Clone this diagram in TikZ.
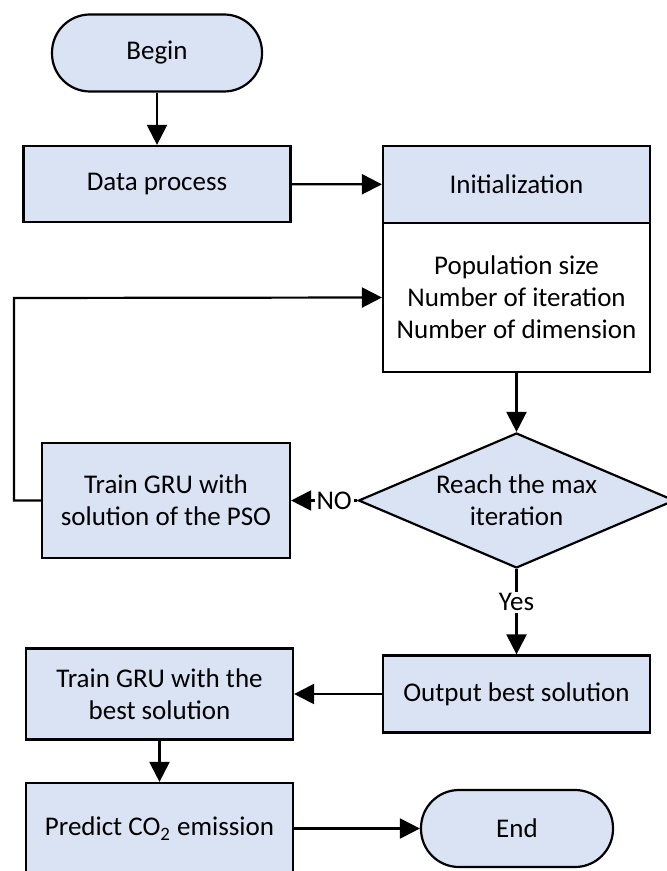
\documentclass[tikz,border=0pt]{standalone}
\usepackage{fontspec}
\setmainfont{Carlito}
\usetikzlibrary{arrows.meta,shapes.geometric}
\definecolor{boxblue}{HTML}{DAE3F3}

\begin{document}
\begin{tikzpicture}[
                        x=0.5pt, y=-0.5pt,
                        >={Triangle[length=10pt,width=10pt]},
                        font=\fontsize{13.5pt}{16pt}\selectfont,
                        line width=1.1pt,
                        block/.style={rectangle, draw, fill=boxblue, align=center, minimum width=133.5pt, minimum height=38.5pt, inner sep=2pt},
                        term/.style={rectangle, rounded corners=19pt, draw, fill=boxblue, minimum width=105pt, minimum height=38.5pt},
                        decision/.style={diamond, draw, fill=boxblue, align=center, shape aspect=2.3, inner sep=0pt, minimum width=158pt, minimum height=67.5pt}
                    ]
                    \useasboundingbox (0,0) rectangle (667,871);
                    % Blocks
                    \node [term] (begin) at (157,53) {Begin};
                    \node [block, minimum height=38pt] (data) at (157,184) {Data process};
                    \node [block] (init) at (516.5,184.5) {Initialization};
                    \node [block, fill=white, minimum height=74.5pt] (params) at (516.5,297.5) {Population size\\Number of iteration\\Number of dimension};
                    \node [decision] (decide) at (516.5,500.5) {Reach the max\\iteration};
                    \node [block, minimum width=124pt, minimum height=57.5pt] (pso) at (166,500.5) {Train GRU with\\solution of the PSO};
                    \node [block] (outbest) at (516.5,694) {Output best solution};
                    \node [block, minimum height=45.5pt] (trainbest) at (159.5,694) {Train GRU with the\\best solution};
                    \node [block, minimum height=45.5pt] (predict) at (159.5,828.5) {Predict CO\textsubscript{2} emission};
                    \node [term, minimum width=96pt] (end) at (517,828.5) {End};
                    \coordinate (loop) at (14,298);

                    % Connections
                    \draw [->] (begin) -- (data);
                    \draw [->] (data) -- (init);
                    \draw [->] (params) -- (decide);
                    \draw [->] (decide) --node[pos=0.35, fill=white, inner sep=1pt]{NO} (pso);
                    \draw [->] (pso.west) -| (loop) -- (params.west);
                    \draw [->] (decide) --node[pos=0.39, fill=white, inner sep=1pt]{Yes} (outbest);
                    \draw [->] (outbest) -- (trainbest);
                    \draw [->] (trainbest) -- (predict);
                    \draw [->] (predict) -- (end);
                \end{tikzpicture}
\end{document}
